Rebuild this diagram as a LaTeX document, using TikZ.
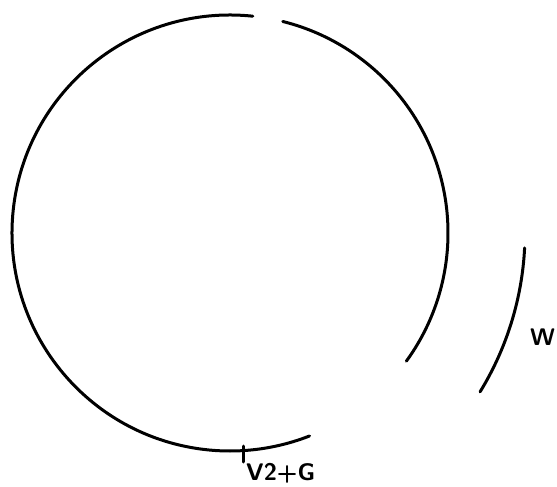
\documentclass[tikz,border=0pt]{standalone}
\begin{document}
\begin{tikzpicture}[x=1pt,y=-1pt,
  stroke/.style={line width=3pt,line cap=round,black},
  lbl/.style={font=\sffamily\bfseries\fontsize{24}{26}\selectfont,inner sep=0pt}]
\useasboundingbox (0,0) rectangle (557,487);
\coordinate (c) at (230,233);
% main arcs
\draw[stroke] ([shift={(-84:218)}]c) arc[start angle=-84,end angle=-291.4,radius=218] coordinate (e1);
\draw[stroke] ([shift={(-76:218)}]c) arc[start angle=-76,end angle=36,radius=218] coordinate (e2);
% outer arc
\draw[stroke] ([shift={(2.9:295)}]c) arc[start angle=2.9,end angle=31.5,radius=305] coordinate (e3);
% tick
\coordinate (t1) at (243,446);
\coordinate (t2) at (243,462);
\draw[stroke] (t1) -- (t2);
\node[lbl,anchor=north west] (v) at (246,463) {V2+G};
\node[lbl,anchor=west] (w) at (530,337) {W};
\end{tikzpicture}
\end{document}
